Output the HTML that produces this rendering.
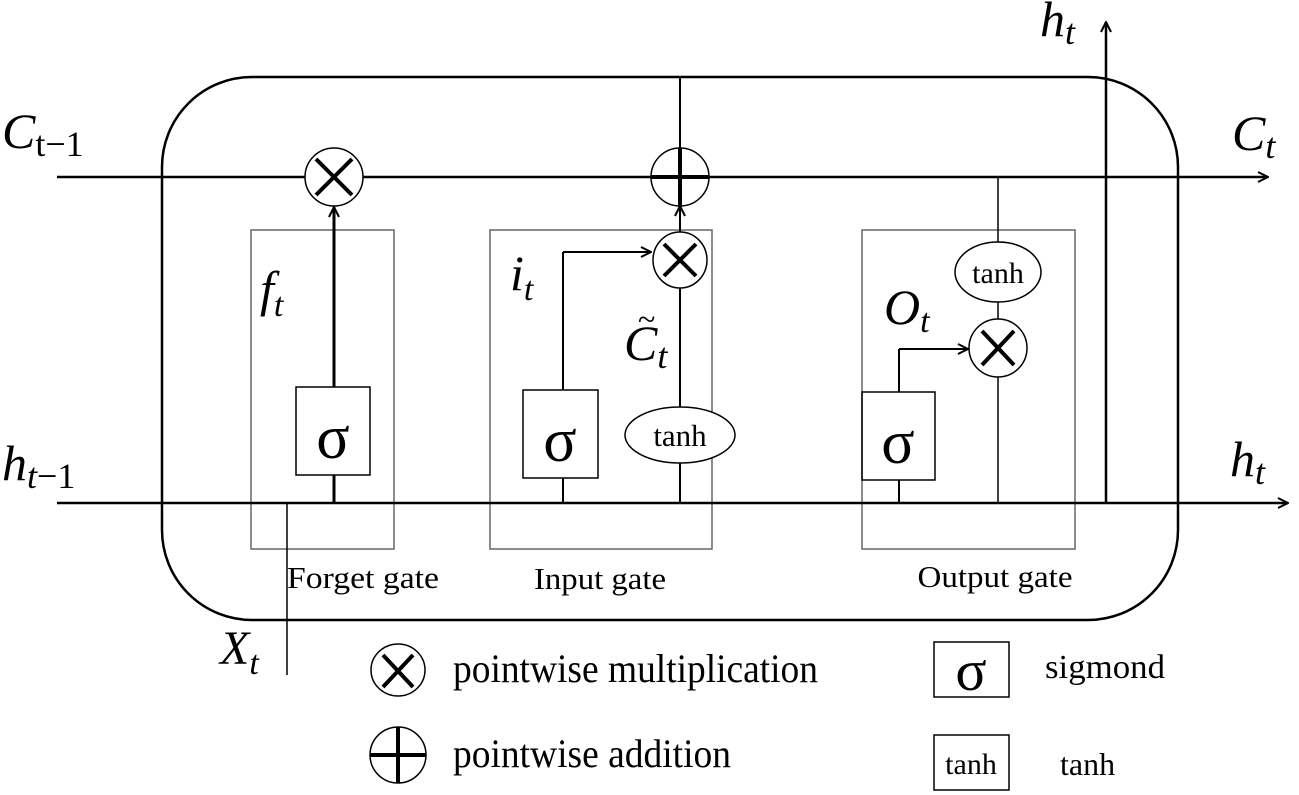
<!DOCTYPE html>
<html><head><meta charset="utf-8"><style>
html,body{margin:0;padding:0;background:#fff;}
svg{display:block;}
.m{font-family:"Liberation Serif",serif;font-style:italic;}
.t{font-family:"Liberation Serif",serif;}
</style></head><body>
<svg width="1299" height="795" viewBox="0 0 1299 795" xmlns="http://www.w3.org/2000/svg">
<defs>
<marker id="a" viewBox="0 0 12 12" refX="11" refY="6" markerWidth="12" markerHeight="12" markerUnits="userSpaceOnUse" orient="auto"><path d="M1,1 L11,6 L1,11" fill="none" stroke="#000" stroke-width="2"/></marker>
</defs>
<g fill="none" stroke="#000">
<rect x="162" y="77" width="1016" height="543" rx="90" ry="90" stroke-width="2.5"/>
<rect x="251" y="230" width="143" height="319" stroke="#666" stroke-width="1.5"/>
<rect x="490" y="230" width="222" height="319" stroke="#666" stroke-width="1.5"/>
<rect x="862" y="230" width="213" height="319" stroke="#666" stroke-width="1.5"/>
<line x1="57" y1="177" x2="1268" y2="177" stroke-width="2.5" marker-end="url(#a)"/>
<line x1="57" y1="503" x2="1288" y2="503" stroke-width="2.5" marker-end="url(#a)"/>
<line x1="1106" y1="503" x2="1106" y2="22" stroke-width="2.5" marker-end="url(#a)"/>
<line x1="287" y1="503" x2="287" y2="675" stroke-width="1.5"/>
<line x1="334" y1="503" x2="334" y2="475" stroke-width="3"/>
<line x1="334" y1="387" x2="334" y2="207" stroke-width="3" marker-end="url(#a)"/>
<rect x="296" y="387" width="74" height="88" stroke-width="1.5"/>
<ellipse cx="334" cy="177" rx="29" ry="29" fill="#fff" stroke-width="1.5"/>
<line x1="680" y1="77" x2="680" y2="148" stroke-width="2"/>
<line x1="563" y1="503" x2="563" y2="478" stroke-width="2"/>
<line x1="563" y1="390" x2="563" y2="252" stroke-width="2"/>
<line x1="563" y1="252" x2="651" y2="252" stroke-width="2" marker-end="url(#a)"/>
<rect x="523" y="390" width="75" height="88" stroke-width="1.5"/>
<line x1="680" y1="503" x2="680" y2="288" stroke-width="2"/>
<line x1="680" y1="233" x2="680" y2="206" stroke-width="2" marker-end="url(#a)"/>
<ellipse cx="680" cy="435" rx="55" ry="28" fill="#fff" stroke-width="1.5"/>
<ellipse cx="680" cy="260" rx="27" ry="28" fill="#fff" stroke-width="1.5"/>
<ellipse cx="680" cy="177" rx="29" ry="29" fill="#fff" stroke-width="1.5"/>
<line x1="998" y1="177" x2="998" y2="503" stroke-width="1.5"/>
<line x1="899" y1="503" x2="899" y2="480" stroke-width="2"/>
<line x1="899" y1="392" x2="899" y2="349" stroke-width="2"/>
<line x1="899" y1="349" x2="968" y2="349" stroke-width="2" marker-end="url(#a)"/>
<rect x="862" y="392" width="73" height="88" stroke-width="1.5"/>
<ellipse cx="998" cy="272" rx="43" ry="30" fill="#fff" stroke-width="1.5"/>
<ellipse cx="998" cy="348" rx="29" ry="29" fill="#fff" stroke-width="1.5"/>
<g stroke-width="4">
<path d="M316,159 L352,195 M352,159 L316,195"/>
<path d="M664,244 L696,276 M696,244 L664,276"/>
<path d="M982,331 L1014,365 M1014,331 L982,365"/>
<path d="M651,177 L709,177 M680,148 L680,206"/>
<path d="M383,655 L413,687 M413,655 L383,687"/>
<path d="M370,755 L426,755 M398,727 L398,783"/>
</g>
<ellipse cx="398" cy="670" rx="27" ry="26" stroke-width="1.5"/>
<ellipse cx="398" cy="755" rx="28" ry="28" stroke-width="1.5"/>
<rect x="934" y="642" width="75" height="55" stroke-width="1.5"/>
<rect x="934" y="735" width="75" height="55" stroke-width="1.5"/>
</g>
<g fill="#000">
<text class="t" x="333" y="458" font-size="62" text-anchor="middle">σ</text>
<text class="t" x="560" y="461" font-size="62" text-anchor="middle">σ</text>
<text class="t" x="898" y="463" font-size="62" text-anchor="middle">σ</text>
<text class="t" x="971" y="690" font-size="58" text-anchor="middle">σ</text>
<text class="t" x="680" y="446" font-size="31" text-anchor="middle">tanh</text>
<text class="t" x="998" y="283" font-size="30" text-anchor="middle">tanh</text>
<text class="t" x="971" y="774" font-size="30" text-anchor="middle">tanh</text>
<text class="t" x="363" y="588" font-size="31" text-anchor="middle" textLength="152" lengthAdjust="spacingAndGlyphs">Forget gate</text>
<text class="t" x="600" y="589" font-size="31" text-anchor="middle" textLength="132" lengthAdjust="spacingAndGlyphs">Input gate</text>
<text class="t" x="995" y="587" font-size="31" text-anchor="middle" textLength="155" lengthAdjust="spacingAndGlyphs">Output gate</text>
<text class="t" x="453" y="682" font-size="40" textLength="365" lengthAdjust="spacingAndGlyphs">pointwise multiplication</text>
<text class="t" x="453" y="767" font-size="40" textLength="278" lengthAdjust="spacingAndGlyphs">pointwise addition</text>
<text class="t" x="1045" y="678" font-size="34" textLength="120" lengthAdjust="spacingAndGlyphs">sigmond</text>
<text class="t" x="1060" y="775" font-size="32">tanh</text>
<text class="m" x="2" y="148" font-size="50">C<tspan font-size="36" dy="8" font-style="normal">t−1</tspan></text>
<text class="m" x="1232" y="150" font-size="50">C<tspan font-size="36" dy="8">t</tspan></text>
<text class="m" x="2" y="480" font-size="50">h<tspan font-size="36" dy="8" font-style="normal"><tspan font-style="italic">t</tspan>−1</tspan></text>
<text class="m" x="1230" y="476" font-size="50">h<tspan font-size="36" dy="8">t</tspan></text>
<text class="m" x="1040" y="36" font-size="50">h<tspan font-size="36" dy="8">t</tspan></text>
<text class="m" x="220" y="664" font-size="48">X<tspan font-size="34" dy="10">t</tspan></text>
<text class="m" x="260" y="306" font-size="50">f<tspan font-size="34" dy="10">t</tspan></text>
<text class="m" x="510" y="290" font-size="50">i<tspan font-size="34" dy="10">t</tspan></text>
<text class="m" x="624" y="360" font-size="50">C<tspan font-size="36" dy="8">t</tspan></text>
<text class="t" x="638" y="330" font-size="32">~</text>
<text class="m" x="884" y="324" font-size="50">O<tspan font-size="34" dy="8">t</tspan></text>
</g>
</svg>
</body></html>
